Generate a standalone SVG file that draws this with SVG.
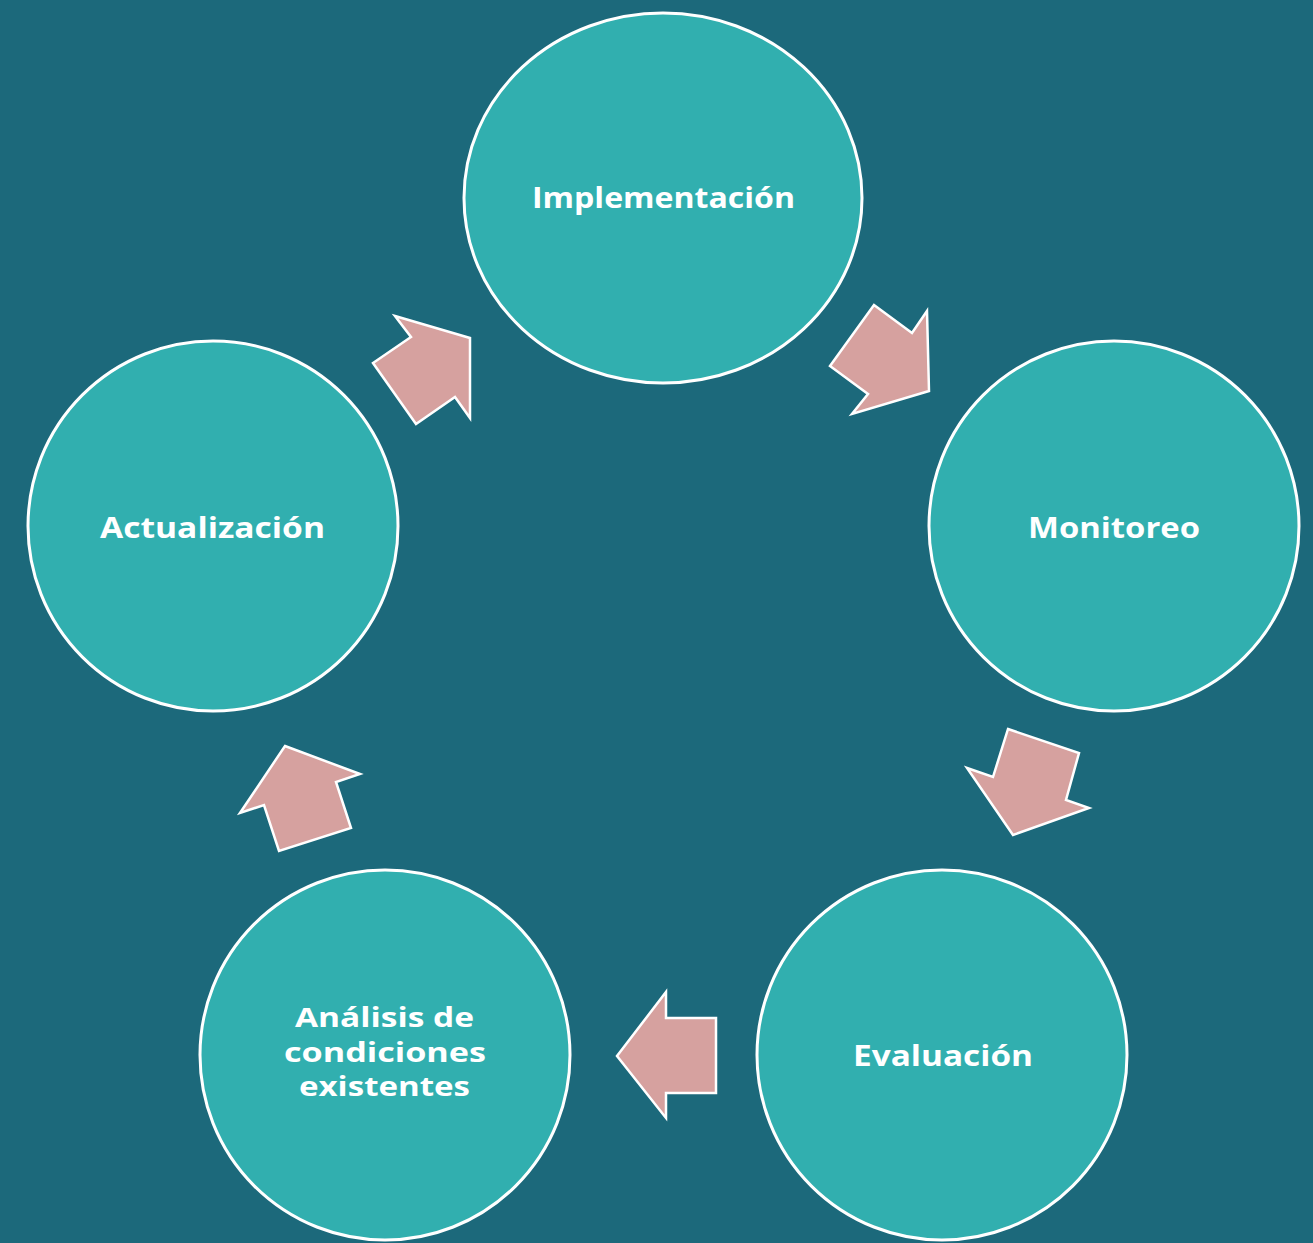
<svg xmlns="http://www.w3.org/2000/svg" width="1313" height="1243" viewBox="0 0 1313 1243">
<style>
.node{fill:#31afaf;stroke:#ffffff;stroke-width:3}
.arr{fill:#d6a19f;stroke:#ffffff;stroke-width:2.5;stroke-linejoin:miter}
.lbl{font-family:"Open Sans","DejaVu Sans",sans-serif;font-weight:700;font-size:29px;fill:#ffffff;text-anchor:middle}
.sm{font-size:26px}
</style>
<rect width="1313" height="1243" fill="#1c697b"/>
<g id="connectors">
<polygon class="arr" points="874,305 912,333 927,311 929,391 852,414 868,394 830,366"/>
<polygon class="arr" points="1008,729 1079,753 1066,800 1089,808 1013,835 967,768 993,777"/>
<polygon class="arr" points="666,992 666,1018 716,1018 716,1093 666,1093 666,1118 617,1056"/>
<polygon class="arr" points="285,746 360,774 336,782 351,828 279,851 264,805 240,813"/>
<polygon class="arr" points="395,316 470,338 470,418 455,397 416,424 373,363 411,337"/>
</g>
<g id="implementacion">
<ellipse class="node" cx="663" cy="198" rx="199" ry="185"/>
<text class="lbl" x="663.5" y="208" textLength="263" lengthAdjust="spacingAndGlyphs">Implementación</text>
</g>
<g id="monitoreo">
<circle class="node" cx="1114" cy="526" r="185"/>
<text class="lbl" x="1114" y="538" textLength="172" lengthAdjust="spacingAndGlyphs">Monitoreo</text>
</g>
<g id="evaluacion">
<circle class="node" cx="942" cy="1055" r="185"/>
<text class="lbl" x="943" y="1066" textLength="180" lengthAdjust="spacingAndGlyphs">Evaluación</text>
</g>
<g id="analisis">
<circle class="node" cx="385" cy="1055" r="185"/>
<text class="lbl sm" x="384.5" y="1027" textLength="179" lengthAdjust="spacingAndGlyphs">Análisis de</text>
<text class="lbl sm" x="385" y="1062" textLength="202" lengthAdjust="spacingAndGlyphs">condiciones</text>
<text class="lbl sm" x="384.5" y="1096" textLength="171" lengthAdjust="spacingAndGlyphs">existentes</text>
</g>
<g id="actualizacion">
<circle class="node" cx="213" cy="526" r="185"/>
<text class="lbl" x="212.5" y="538" textLength="225" lengthAdjust="spacingAndGlyphs">Actualización</text>
</g>
</svg>
